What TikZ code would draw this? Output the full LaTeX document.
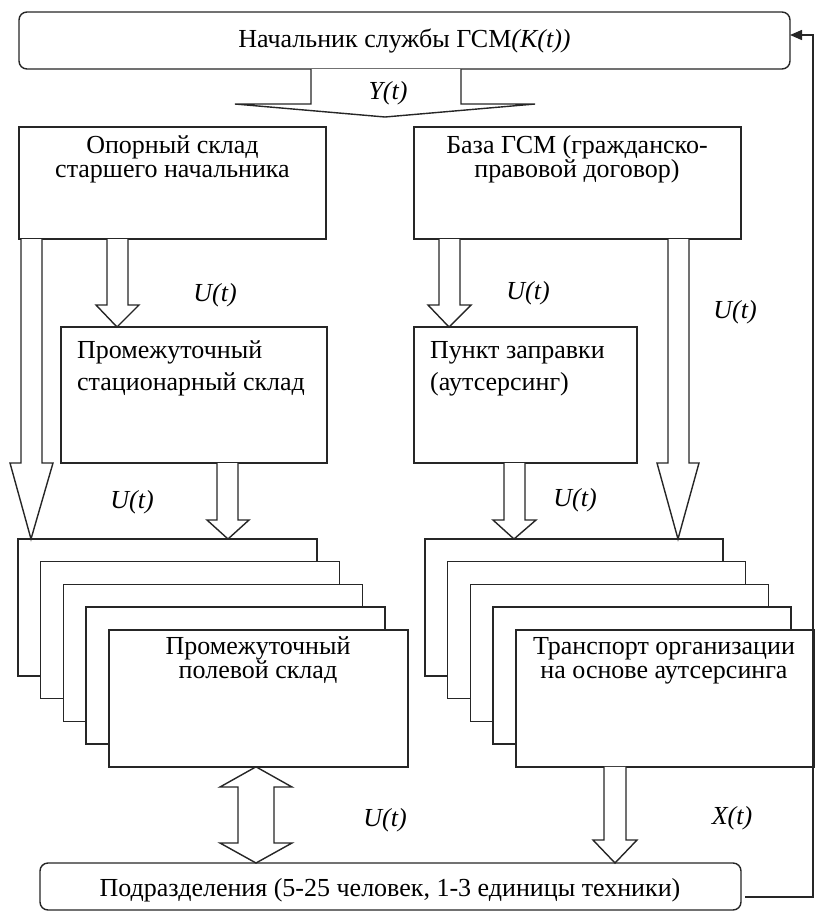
\documentclass[tikz,border=0pt]{standalone}
\usepackage{fontspec}
\setmainfont{Liberation Serif}
\usetikzlibrary{arrows.meta,calc}
\newcommand\mkbox[6][blk]{\node[#1, minimum width={#5-#3}, minimum height={#6-#4}] (#2) at ({(#3+#5)/2},{(#4+#6)/2}) {};}
\newcommand\blkdown[8]{\draw[arr] (#3,0 |- #1.south) -- (#3,#5) -- (#6,#5) -- (#8,0 |- #2.north) -- (#7,#5) -- (#4,#5) -- (#4,0 |- #1.south);}
\begin{document}
\begin{tikzpicture}[x=1pt,y=-1pt,
  ln/.style={line width=1.4pt, draw=black!85},
  blk/.style={ln, fill=white, rectangle, inner sep=0pt, outer sep=0pt},
  rblk/.style={blk, rounded corners=8pt},
  arr/.style={ln, line join=miter, fill=white},
  txt/.style={inner sep=0pt, anchor=base, font=\fontsize{26}{26}\selectfont},
  txtl/.style={txt, anchor=base west},
  lbl/.style={inner sep=0pt, anchor=center, font=\fontsize{26}{26}\selectfont\itshape},
  fb/.style={ln, -{Triangle[length=12pt,width=10pt]}}
]
\useasboundingbox (0,0) rectangle (815,914);

% top box
\mkbox[rblk]{K}{19}{12}{790}{69}
\node[txt] (Kt) at (404.5,47) {Начальник службы ГСМ\textit{(K(t))}};

% second row
\mkbox{A}{19}{127}{326}{239}
\node[txt] (At1) at (172.5,153) {Опорный склад};
\node[txt] (At2) at (172.5,177) {старшего начальника};
\mkbox{B}{414}{127}{741}{239}
\node[txt] (Bt1) at (577,153) {База ГСМ (гражданско-};
\node[txt] (Bt2) at (577,177) {правовой договор)};

% third row
\mkbox{C}{61}{327}{327}{463}
\node[txtl] (Ct1) at (77,358) {Промежуточный};
\node[txtl] (Ct2) at (77,390) {стационарный склад};
\mkbox{D}{414}{327}{637}{463}
\node[txtl] (Dt1) at (430,358) {Пункт заправки};
\node[txtl] (Dt2) at (430,390) {(аутсерсинг)};

% stacks
\foreach \i in {0,...,4} {
  \node[blk, minimum width=299, minimum height=137] (LS\i) at ({167.5+22.7*\i},{607.5+22.7*\i}) {};
  \node[blk, minimum width=298, minimum height=137] (RS\i) at ({574+22.7*\i},{607.5+22.7*\i}) {};
}
\node[txt] (Lt1) at (258,654) {Промежуточный};
\node[txt] (Lt2) at (258,678) {полевой склад};
\node[txt] (Rt1) at (664,654) {Транспорт организации};
\node[txt] (Rt2) at (664,678) {на основе аутсерсинга};

% bottom box
\mkbox[rblk]{bot}{40}{863}{741}{910}
\node[txt] (bt) at (390,896) {Подразделения (5-25 человек, 1-3 единицы техники)};

% Y arrow
\coordinate (Ytip) at (385,117);
\draw[arr] (311,0 |- K.south) -- (311,104) -- (235,104) -- (Ytip) -- (535,104) -- (461,104) -- (461,0 |- K.south);

% block arrows
\blkdown{A}{LS0}{21}{42}{463}{10}{53}{31}
\blkdown{A}{C}{107}{128}{305}{96}{139}{117}
\blkdown{C}{LS0}{217}{238}{520}{207}{249}{228}
\blkdown{B}{D}{439}{460}{305}{428}{471}{449}
\blkdown{D}{RS0}{504}{525}{520}{493}{536}{514}
\blkdown{B}{RS0}{668}{689}{463}{657}{699}{678}
\blkdown{RS4}{bot}{604}{626}{840}{593}{637}{615}

% bidirectional arrow
\draw[arr] (256,0 |- LS4.south) -- (292,787) -- (274,787) -- (274,843) -- (292,843) -- (256,0 |- bot.north) -- (220,843) -- (238,843) -- (238,787) -- (220,787) -- cycle;

% feedback
\coordinate (fb1) at (745,897);
\draw[fb] (fb1) -- (813,897) -- (813,35) -- (K.east |- 0,35);

% labels
\node[lbl] (lY) at (388,93) {Y(t)};
\node[lbl] (lU1) at (215,295) {U(t)};
\node[lbl] (lU2) at (528,293) {U(t)};
\node[lbl] (lU3) at (735,312) {U(t)};
\node[lbl] (lU4) at (132,502) {U(t)};
\node[lbl] (lU5) at (575,500) {U(t)};
\node[lbl] (lU6) at (385,820) {U(t)};
\node[lbl] (lX) at (732,818) {X(t)};
\end{tikzpicture}
\end{document}
